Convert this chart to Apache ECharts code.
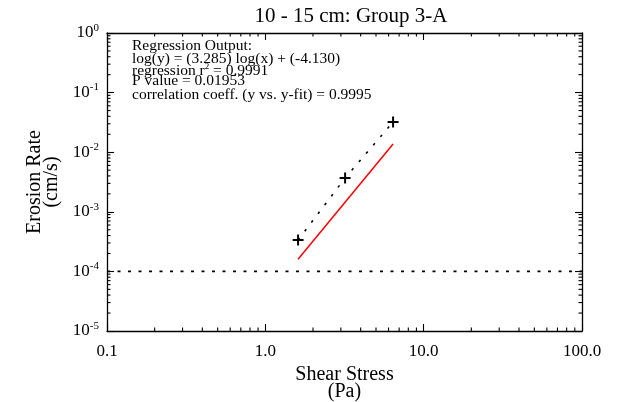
<!DOCTYPE html>
<html>
<head>
<meta charset="utf-8">
<script src="https://cdn.jsdelivr.net/npm/echarts@6/dist/echarts.min.js"></script>
<style>
  body{margin:0;background:#fff}
  #main{width:628px;height:402px}
</style>
</head>
<body>
<div id="main"></div>
<script>
// data
let shear=[1.61,3.19,6.41]
let erosion=[3.37e-4,3.69e-3,0.0321]
let fitX=[1.61,6.41]
let fitY=[1.6e-4,0.0137]
let critical=1e-4
let xTickLabels=['0.1','1.0','10.0','100.0']
let yExponents=['-5','-4','-3','-2','-1','0']
let xDecades=[0.1,1,10]
let yDecades=[1e-5,1e-4,1e-3,1e-2,1e-1]
let notes=[
  'Regression Output:',
  'log(y) = (3.285) log(x) + (-4.130)',
  '{a|regression r}{s|2}{a| = 0.9991}',
  'P value = 0.01953',
  'correlation coeff. (y vs. y-fit) = 0.9995'
]
let noteY=[38,51,62,73,87]

let font='"Liberation Serif","DejaVu Serif",serif'

// minor tick positions 2..9 of each decade
let xMinor=[],yMinor=[]
xDecades.forEach(d=>{for(let k=2;k<10;k++) xMinor.push(d*k)})
yDecades.forEach(d=>{for(let k=2;k<10;k++) yMinor.push(d*k)})

var myChart=echarts.init(document.getElementById('main'))

let plus='path://M4.1,0h1.8v4.1h4.1v1.8h-4.1v4.1h-1.8v-4.1h-4.1v-1.8h4.1z'

let axisCommon={
  type:'log',logBase:10,
  axisLine:{lineStyle:{color:'#000',width:1.3}},
  axisTick:{inside:true,length:7,lineStyle:{color:'#000',width:1.1}},
  splitLine:{show:false},
  minorTick:{show:false}
}

let notesGraphic=notes.map((t,i)=>({
  type:'text',left:132,top:noteY[i],silent:true,z:10,
  style:{
    text:t,fontFamily:font,fontSize:15.5,fill:'#000',
    rich:{
      a:{fontFamily:font,fontSize:15.5,color:'#000'},
      s:{fontFamily:font,fontSize:9,color:'#000',verticalAlign:'bottom',padding:[0,0,8,0]}
    }
  }
}))

option={
  animation:false,
  title:{
    text:'10 - 15 cm: Group 3-A',
    left:346,top:1,textAlign:'center',
    textStyle:{fontFamily:font,fontSize:21,fontWeight:'normal',color:'#000'}
  },
  grid:{left:107,right:46,top:33,bottom:71,containLabel:false,outerBoundsMode:'none'},
  xAxis:[
    Object.assign({},axisCommon,{
      min:0.1,max:100,position:'bottom',
      name:'Shear Stress\n(Pa)',nameLocation:'middle',nameGap:34,
      nameTextStyle:{fontFamily:font,fontSize:20,color:'#000',lineHeight:17},
      axisLabel:{fontFamily:font,fontSize:17,color:'#000',margin:12,
        formatter:(v,i)=>xTickLabels[i]}
    }),
    Object.assign({},axisCommon,{
      min:0.1,max:100,position:'top',axisLabel:{show:false}
    })
  ],
  yAxis:[
    Object.assign({},axisCommon,{
      min:1e-5,max:1,position:'left',
      name:'Erosion Rate\n(cm/s)',nameLocation:'middle',nameGap:47,nameRotate:90,
      nameTextStyle:{fontFamily:font,fontSize:20,color:'#000',lineHeight:17},
      axisLabel:{margin:8,
        formatter:(v,i)=>'{b|10}{e|'+yExponents[i]+'}',
        rich:{
          b:{fontFamily:font,fontSize:17,color:'#000'},
          e:{fontFamily:font,fontSize:11,color:'#000',verticalAlign:'bottom',padding:[0,0,10,0]}
        }}
    }),
    Object.assign({},axisCommon,{
      min:1e-5,max:1,position:'right',axisLabel:{show:false}
    })
  ],
  graphic:notesGraphic,
  series:[
    {
      name:'critical',type:'line',symbol:'none',
      data:[[0.1,critical],[100,critical]],
      lineStyle:{color:'#000',width:1.6,type:[3,7.5]}
    },
    {
      name:'measured',type:'line',
      data:shear.map((x,i)=>[x,erosion[i]]),
      symbol:plus,symbolSize:11,
      itemStyle:{color:'#000'},
      lineStyle:{color:'#000',width:1.6,type:[2.5,8.5]}
    },
    {
      name:'fit',type:'line',symbol:'none',
      data:fitX.map((x,i)=>[x,fitY[i]]),
      lineStyle:{color:'#ff0000',width:1.5}
    }
  ]
}

myChart.setOption(option)

// minor ticks (2..9 in every decade) on all four sides, placed through the axes
let minorLines=[]
let st={stroke:'#000',lineWidth:1.1}
xMinor.forEach(v=>{
  let b=myChart.convertToPixel({gridIndex:0},[v,1e-5])
  let t=myChart.convertToPixel({gridIndex:0},[v,1])
  minorLines.push({type:'line',silent:true,shape:{x1:b[0],y1:b[1],x2:b[0],y2:b[1]-3.5},style:st})
  minorLines.push({type:'line',silent:true,shape:{x1:t[0],y1:t[1],x2:t[0],y2:t[1]+3.5},style:st})
})
yMinor.forEach(v=>{
  let l=myChart.convertToPixel({gridIndex:0},[0.1,v])
  let r=myChart.convertToPixel({gridIndex:0},[100,v])
  minorLines.push({type:'line',silent:true,shape:{x1:l[0],y1:l[1],x2:l[0]+3.5,y2:l[1]},style:st})
  minorLines.push({type:'line',silent:true,shape:{x1:r[0],y1:r[1],x2:r[0]-3.5,y2:r[1]},style:st})
})
myChart.setOption({graphic:notesGraphic.concat(minorLines)})
</script>
</body>
</html>
